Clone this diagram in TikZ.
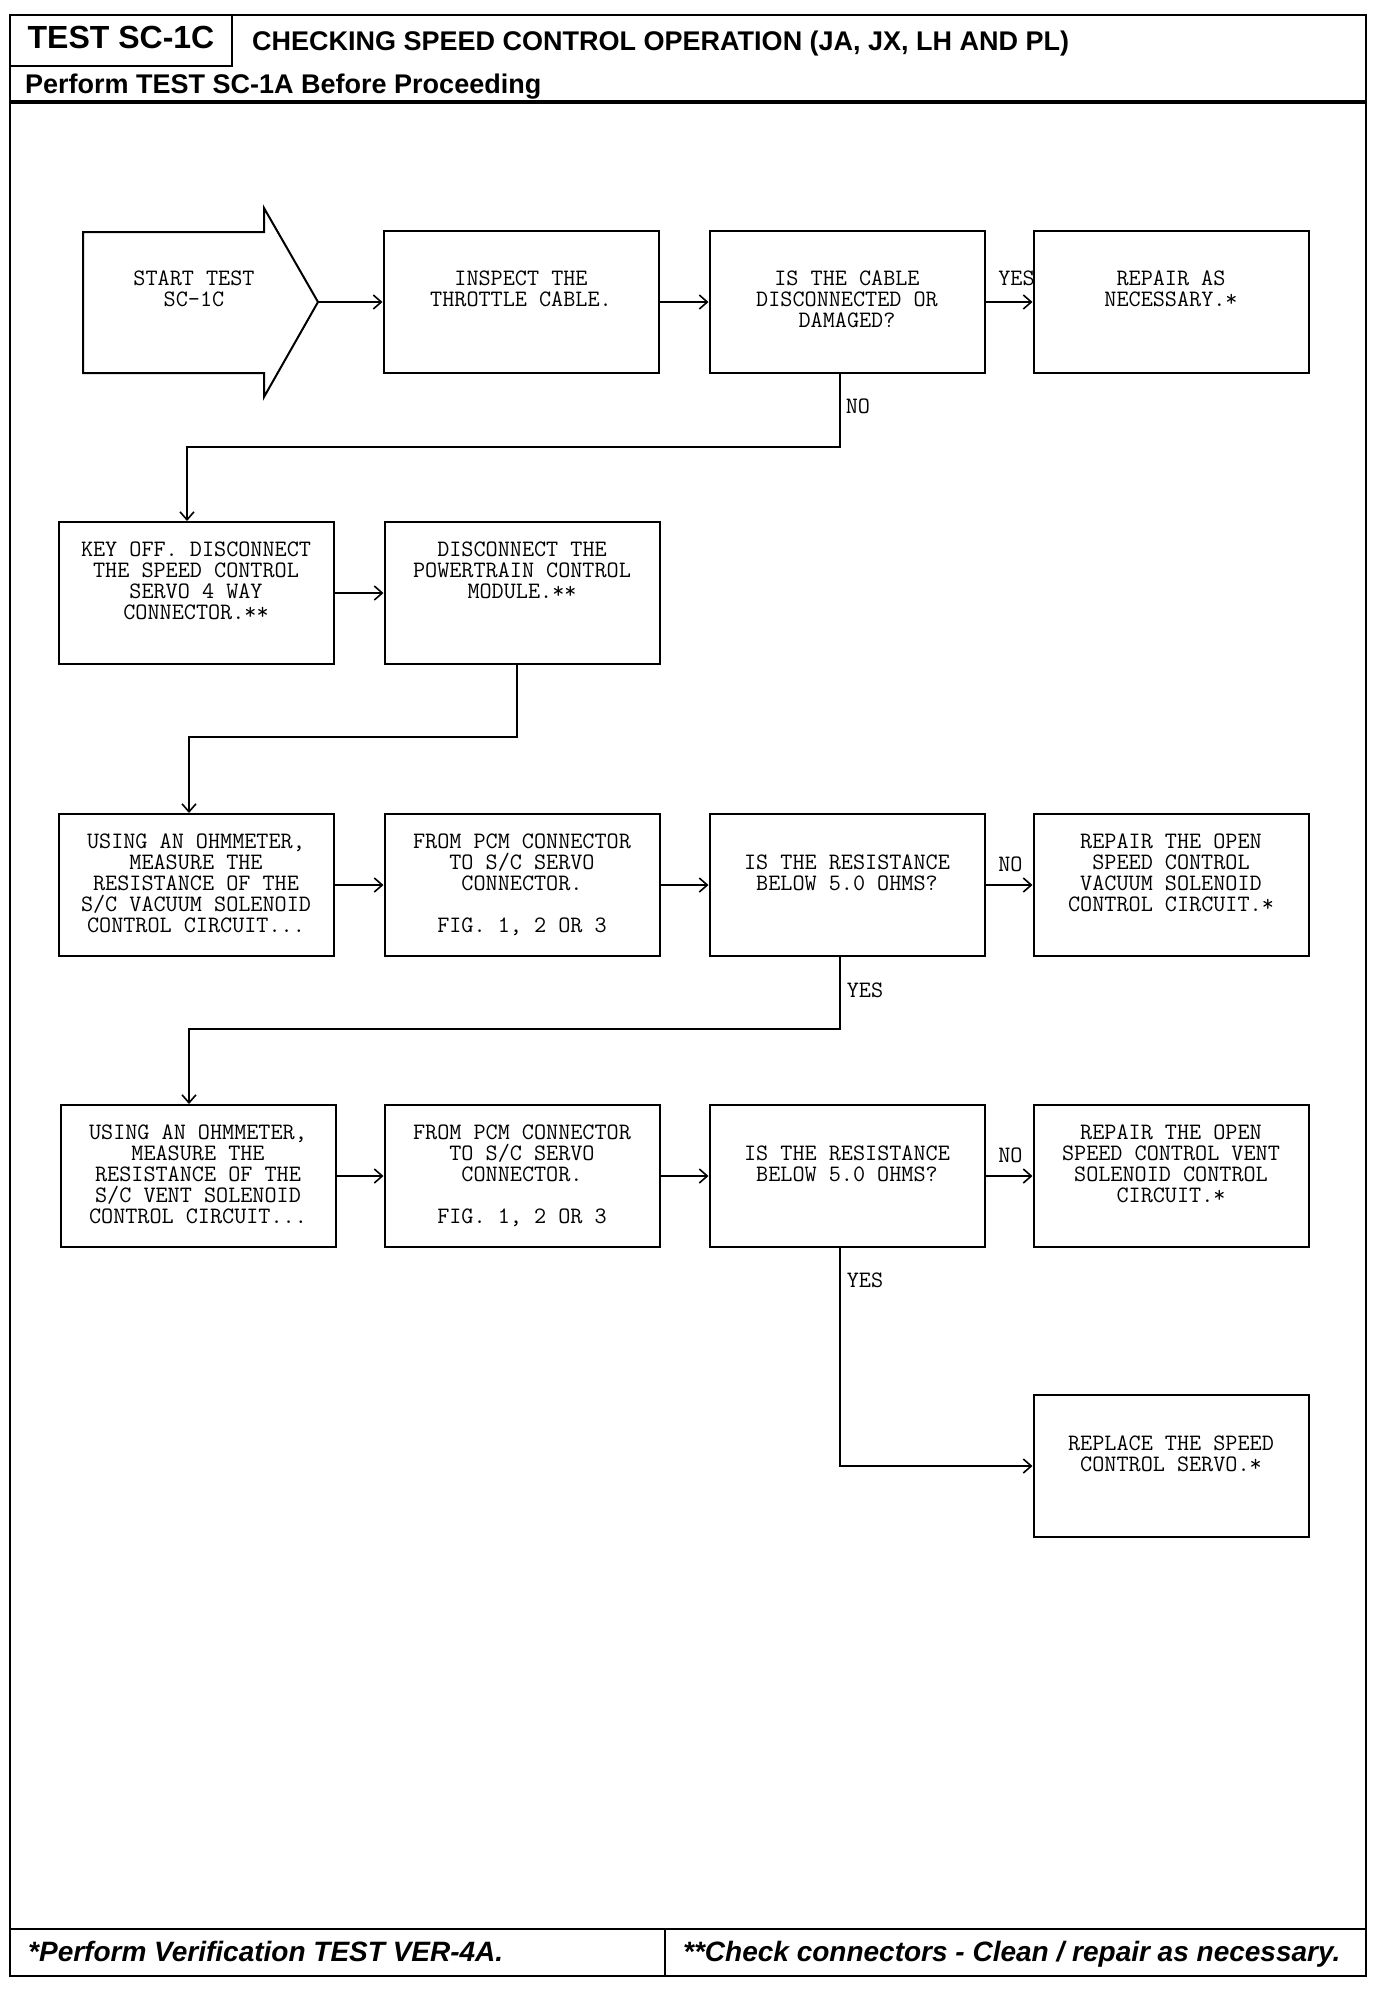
\documentclass[tikz,border=0pt]{standalone}
\usepackage{fontspec}
\setmainfont{Liberation Sans}
\usetikzlibrary{arrows.meta,calc}
\newcommand{\bxt}[3][275pt]{\parbox[c][142pt][t]{#1}{\centering\rule{0pt}{#2}#3\par}}
\newcommand{\boxfnt}{\ttfamily\fontsize{23.5}{21}\selectfont\addfontfeature{FakeBold=0.8}}
\begin{document}
\begin{tikzpicture}[x=1pt,y=-1pt,
  box/.style={draw, line width=2pt, inner sep=0pt, font=\boxfnt},
  plain/.style={inner sep=0pt, font=\boxfnt},
  arr/.style={line width=1.6pt, -{Straight Barb[length=8pt,width=14pt]}},
  lbl/.style={inner sep=0pt, font=\boxfnt},
  hdr/.style={inner sep=0pt, anchor=base west, font=\bfseries\fontsize{27}{30}\selectfont},
  ftr/.style={inner sep=0pt, anchor=base west, font=\bfseries\itshape\fontsize{28}{30}\selectfont}]
\useasboundingbox (0,0) rectangle (1376,1998);
% frame
\draw[line width=2.5pt] (10,15) rectangle (1366,1976);
\draw[line width=2pt] (232,15) -- (232,66) -- (10,66);
\draw[line width=4pt] (10,102) -- (1366,102);
\draw[line width=2.5pt] (10,1929) -- (1366,1929);
\draw[line width=2pt] (665,1929) -- (665,1976);
\node[inner sep=0pt, anchor=base, font=\bfseries\fontsize{32}{34}\selectfont] (ttl) at (121,48) {TEST SC-1C};
\node[hdr] (head) at (252,50) {CHECKING SPEED CONTROL OPERATION (JA, JX, LH AND PL)};
\node[hdr] (sub) at (25,93) {Perform TEST SC-1A Before Proceeding};
\node[ftr] (f1) at (28,1961) {*Perform Verification TEST VER-4A.};
\node[ftr] (f2) at (683,1961) {**Check connectors - Clean / repair as necessary.};
% start arrow
\draw[line width=2pt] (83,232) -- (264,232) -- (264,208) -- (318,302) -- (264,397) -- (264,373) -- (83,373) -- cycle;
\coordinate (stip) at (318,302);
\node[plain] (start) at (194,302) {\bxt[170pt]{54pt}{START TEST\\SC-1C}};
% row 1
\node[box] (inspect) at (521,302) {\bxt{54pt}{INSPECT THE\\THROTTLE CABLE.}};
\node[box] (cable) at (847,302) {\bxt{54pt}{IS THE CABLE\\DISCONNECTED OR\\DAMAGED?}};
\node[box] (rep1) at (1171,302) {\bxt{54pt}{REPAIR AS\\NECESSARY.*}};
% row 2
\node[box] (keyoff) at (196,593) {\bxt{34pt}{KEY OFF. DISCONNECT\\THE SPEED CONTROL\\SERVO 4 WAY\\CONNECTOR.**}};
\node[box] (pcm) at (522,593) {\bxt{34pt}{DISCONNECT THE\\POWERTRAIN CONTROL\\MODULE.**}};
% row 3
\node[box] (ohm1) at (196,885) {\bxt{34pt}{USING AN OHMMETER,\\MEASURE THE\\RESISTANCE OF THE\\S/C VACUUM SOLENOID\\CONTROL CIRCUIT...}};
\node[box] (from1) at (522,885) {\bxt{34pt}{FROM PCM CONNECTOR\\TO S/C SERVO\\CONNECTOR.\\[21pt]FIG. 1, 2 OR 3}};
\node[box] (res1) at (847,885) {\bxt{55pt}{IS THE RESISTANCE\\BELOW 5.0 OHMS?}};
\node[box] (rep2) at (1171,885) {\bxt{34pt}{REPAIR THE OPEN\\SPEED CONTROL\\VACUUM SOLENOID\\CONTROL CIRCUIT.*}};
% row 4
\node[box] (ohm2) at (198,1176) {\bxt{34pt}{USING AN OHMMETER,\\MEASURE THE\\RESISTANCE OF THE\\S/C VENT SOLENOID\\CONTROL CIRCUIT...}};
\node[box] (from2) at (522,1176) {\bxt{34pt}{FROM PCM CONNECTOR\\TO S/C SERVO\\CONNECTOR.\\[21pt]FIG. 1, 2 OR 3}};
\node[box] (res2) at (847,1176) {\bxt{55pt}{IS THE RESISTANCE\\BELOW 5.0 OHMS?}};
\node[box] (rep3) at (1171,1176) {\bxt{34pt}{REPAIR THE OPEN\\SPEED CONTROL VENT\\SOLENOID CONTROL\\CIRCUIT.*}};
% row 5
\node[box] (repl) at (1171,1466) {\bxt{55pt}{REPLACE THE SPEED\\CONTROL SERVO.*}};
% connectors
\draw[arr] (stip) -- (inspect.west);
\draw[arr] (inspect.east) -- (cable.west);
\draw[arr] (cable.east) -- node[lbl, anchor=base west, pos=0, xshift=12pt, yshift=17pt] {YES} (rep1.west);
\draw[arr] ([xshift=-7pt]cable.south) -- node[lbl, anchor=west, pos=0.44, xshift=5pt] {NO} ++(0,73) -| ([xshift=-9pt]keyoff.north);
\draw[arr] (keyoff.east) -- (pcm.west);
\draw[arr] ([xshift=-5pt]pcm.south) -- ++(0,72) -| ([xshift=-7pt]ohm1.north);
\draw[arr] (ohm1.east) -- (from1.west);
\draw[arr] (from1.east) -- (res1.west);
\draw[arr] (res1.east) -- node[lbl, anchor=base west, pos=0, xshift=12pt, yshift=14pt] {NO} (rep2.west);
\draw[arr] ([xshift=-7pt]res1.south) -- node[lbl, anchor=west, pos=0.46, xshift=6pt] {YES} ++(0,72) -| ([xshift=-9pt]ohm2.north);
\draw[arr] (ohm2.east) -- (from2.west);
\draw[arr] (from2.east) -- (res2.west);
\draw[arr] (res2.east) -- node[lbl, anchor=base west, pos=0, xshift=12pt, yshift=14pt] {NO} (rep3.west);
\draw[arr] ([xshift=-7pt]res2.south) |- node[lbl, anchor=west, pos=0.075, xshift=6pt] {YES} (repl.west);
\end{tikzpicture}
\end{document}
